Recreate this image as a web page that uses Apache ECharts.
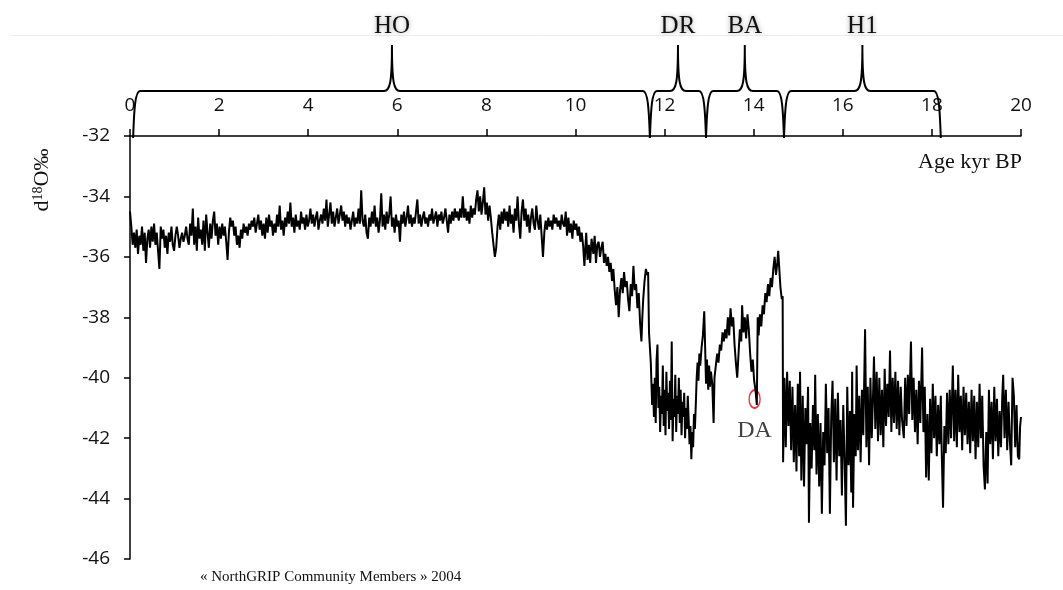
<!DOCTYPE html>
<html><head><meta charset="utf-8">
<script src="https://cdn.jsdelivr.net/npm/echarts@6/dist/echarts.min.js"></script>
<style>html,body{margin:0;padding:0;background:#fff}#c{width:1063px;height:590px}</style>
</head><body><div id="c"></div>
<script>
// ---- axes ----
const xMin = 0, xMax = 20, xStep = 2;
const yMin = -46, yMax = -32, yStep = 2;

// ---- climate periods (braces on top) ----
const periodNames = ['HO', 'DR', 'BA', 'H1'];
const periodStart = [0.07, 11.67, 12.93, 14.68];
const periodPeak  = [5.88, 12.30, 13.80, 16.44];
const periodEnd   = [11.67, 12.93, 14.68, 18.20];

// ---- DA marker ----
const daPoint = [14.02, -40.71];

// ---- NorthGRIP d18O record: [age kyr BP, d18O permil] ----
const holocene = [
[0.00,-34.5],[0.03,-35.0],[0.06,-35.6],[0.09,-35.2],[0.12,-35.7],[0.15,-35.1],[0.18,-35.9],[0.21,-35.3],[0.24,-35.6],[0.27,-35.0],
[0.30,-35.8],[0.33,-35.2],[0.36,-36.2],[0.39,-35.4],[0.42,-35.1],[0.45,-35.7],[0.48,-35.0],[0.51,-35.5],[0.54,-34.9],[0.57,-35.6],
[0.60,-35.2],[0.63,-35.8],[0.66,-36.4],[0.69,-35.0],[0.72,-35.4],[0.75,-35.1],[0.78,-35.7],[0.81,-35.3],[0.84,-35.9],[0.87,-35.2],
[0.90,-35.5],[0.93,-35.0],[0.96,-35.6],[0.99,-35.8],[1.02,-35.3],[1.05,-35.0],[1.08,-35.3],[1.11,-35.7],[1.14,-35.4],[1.17,-35.2],
[1.20,-35.5],[1.23,-35.3],[1.26,-35.0],[1.29,-35.4],[1.32,-35.6],[1.35,-34.9],[1.38,-35.3],[1.41,-34.4],[1.44,-35.6],[1.47,-35.0],
[1.50,-35.8],[1.53,-34.7],[1.56,-35.4],[1.59,-35.1],[1.62,-35.6],[1.65,-34.8],[1.68,-35.8],[1.71,-34.6],[1.74,-35.2],[1.77,-35.7],
[1.80,-34.9],[1.83,-35.4],[1.86,-34.8],[1.89,-34.5],[1.92,-35.3],[1.95,-34.9],[1.98,-35.6],[2.01,-35.0],[2.04,-35.4],[2.07,-34.9],
[2.10,-35.3],[2.13,-35.0],[2.16,-35.5],[2.19,-36.1],[2.22,-35.2],[2.25,-34.7],[2.28,-35.0],[2.31,-34.8],[2.34,-35.3],[2.37,-35.0],
[2.40,-35.6],[2.43,-35.3],[2.46,-35.7],[2.49,-35.1],[2.52,-35.4],[2.55,-34.9],[2.58,-35.2],[2.61,-35.0],[2.64,-35.3],[2.67,-34.9],
[2.70,-35.1],[2.73,-34.8],[2.76,-35.0],[2.79,-34.7],[2.82,-35.2],[2.85,-34.9],[2.88,-34.6],[2.91,-35.1],[2.94,-34.8],[2.97,-35.3],
[3.00,-34.9],[3.03,-35.4],[3.06,-34.7],[3.09,-35.2],[3.12,-34.6],[3.15,-35.0],[3.18,-34.8],[3.21,-35.3],[3.24,-34.9],[3.27,-35.2],
[3.30,-34.6],[3.33,-35.0],[3.36,-34.3],[3.39,-35.1],[3.42,-34.8],[3.45,-35.3],[3.48,-34.7],[3.51,-35.0],[3.54,-34.5],[3.57,-34.9],
[3.60,-34.2],[3.63,-35.0],[3.66,-34.7],[3.69,-35.2],[3.72,-34.6],[3.75,-35.0],[3.78,-34.8],[3.81,-35.1],[3.84,-34.5],[3.87,-34.9],
[3.90,-34.7],[3.93,-35.1],[3.96,-34.6],[3.99,-35.0],[4.02,-34.8],[4.05,-34.4],[4.08,-34.9],[4.11,-34.6],[4.14,-35.0],[4.17,-34.7],
[4.20,-34.5],[4.23,-35.1],[4.26,-34.8],[4.29,-34.6],[4.32,-34.9],[4.35,-34.4],[4.38,-34.8],[4.41,-34.1],[4.44,-35.0],[4.47,-34.6],
[4.50,-34.2],[4.53,-34.9],[4.56,-34.5],[4.59,-35.0],[4.62,-34.7],[4.65,-34.4],[4.68,-34.9],[4.71,-34.6],[4.74,-34.3],[4.77,-34.8],
[4.80,-34.5],[4.83,-35.0],[4.86,-34.6],[4.89,-34.9],[4.92,-34.7],[4.95,-35.1],[4.98,-34.8],[5.01,-34.5],[5.04,-35.0],[5.07,-34.7],
[5.10,-34.9],[5.13,-34.4],[5.16,-34.9],[5.19,-33.8],[5.22,-34.8],[5.25,-35.0],[5.28,-34.6],[5.31,-35.2],[5.34,-35.4],[5.37,-34.7],
[5.40,-35.0],[5.43,-34.5],[5.46,-34.9],[5.49,-34.3],[5.52,-35.0],[5.55,-34.7],[5.58,-35.2],[5.61,-34.8],[5.64,-33.9],[5.67,-35.0],
[5.70,-34.6],[5.73,-35.1],[5.76,-34.5],[5.79,-34.9],[5.82,-34.6],[5.85,-34.0],[5.88,-35.0],[5.91,-34.7],[5.94,-35.2],[5.97,-34.6],
[6.00,-35.0],[6.03,-34.8],[6.06,-35.5],[6.09,-34.6],[6.12,-34.9],[6.15,-34.5],[6.18,-35.0],[6.21,-34.7],[6.24,-34.3],[6.27,-34.9],
[6.30,-34.6],[6.33,-35.0],[6.36,-34.7],[6.39,-34.9],[6.42,-34.5],[6.45,-34.1],[6.48,-34.9],[6.51,-34.6],[6.54,-35.0],[6.57,-34.7],
[6.60,-34.5],[6.63,-34.9],[6.66,-34.7],[6.69,-35.0],[6.72,-34.6],[6.75,-34.8],[6.78,-34.4],[6.81,-34.9],[6.84,-34.7],[6.87,-34.5],
[6.90,-35.0],[6.93,-34.6],[6.96,-34.8],[6.99,-34.5],[7.02,-34.9],[7.05,-34.7],[7.08,-34.4],[7.11,-34.8],[7.14,-35.2],[7.17,-34.6],
[7.20,-34.9],[7.23,-34.5],[7.26,-34.8],[7.29,-34.4],[7.32,-34.7],[7.35,-34.5],[7.38,-34.8],[7.41,-34.4],[7.44,-34.7],[7.47,-34.0],
[7.50,-34.7],[7.53,-34.4],[7.56,-34.8],[7.59,-34.5],[7.62,-34.9],[7.65,-34.3],[7.68,-34.7],[7.71,-34.4],[7.74,-34.6],[7.77,-34.1],
[7.80,-33.8],[7.83,-34.5],[7.86,-34.0],[7.89,-34.6],[7.92,-34.2],[7.95,-33.7],[7.98,-34.6],[8.01,-34.2],[8.04,-34.8],[8.07,-34.3],
[8.10,-34.7],[8.13,-35.2],[8.16,-35.6],[8.19,-36.0],[8.22,-35.7],[8.25,-35.0],[8.28,-34.6],[8.31,-35.1],[8.34,-34.5],[8.37,-34.9],
[8.40,-34.4],[8.43,-34.8],[8.46,-34.5],[8.49,-35.0],[8.52,-34.3],[8.55,-34.9],[8.58,-34.6],[8.61,-35.2],[8.64,-34.4],[8.67,-34.8],
[8.70,-34.0],[8.73,-34.9],[8.76,-35.4],[8.79,-34.5],[8.82,-34.1],[8.85,-34.8],[8.88,-34.4],[8.91,-35.0],[8.94,-34.6],[8.97,-35.2],
[9.00,-34.7],[9.03,-34.4],[9.06,-34.9],[9.09,-35.1],[9.12,-34.3],[9.15,-34.8],[9.18,-35.1],[9.21,-34.6],[9.24,-35.3],[9.27,-36.0],
[9.30,-35.2],[9.33,-34.8],[9.36,-35.1],[9.39,-34.7],[9.42,-35.0],[9.45,-34.8],[9.48,-35.1],[9.51,-34.6],[9.54,-34.9],[9.57,-34.7],
[9.60,-35.0],[9.63,-34.8],[9.66,-35.1],[9.69,-34.6],[9.72,-34.9],[9.75,-35.0],[9.78,-34.5],[9.81,-35.3],[9.84,-34.7],[9.87,-35.2],
[9.90,-34.9],[9.93,-35.4],[9.96,-34.8],[9.99,-35.1],[10.02,-34.9],[10.05,-35.3],[10.08,-35.0],[10.11,-35.5],[10.14,-35.2],[10.17,-35.6],
[10.20,-36.3],[10.24,-35.2],[10.27,-36.1],[10.30,-35.6],[10.33,-36.2],[10.36,-35.4],[10.40,-35.9],[10.43,-35.3],[10.46,-36.2],[10.49,-35.6],
[10.52,-35.5],[10.55,-36.0],[10.58,-35.7],[10.61,-35.5],[10.64,-36.2],[10.67,-35.9],[10.70,-36.3],[10.73,-36.0],[10.76,-36.5],[10.79,-36.2],
[10.82,-36.8],[10.85,-36.4],[10.88,-37.1],[10.91,-37.6],[10.94,-37.0],[10.97,-38.0],[11.00,-37.1],[11.03,-36.7],[11.06,-37.2],[11.09,-36.5],
[11.12,-37.0],[11.15,-36.8],[11.18,-37.4],[11.21,-37.8],[11.24,-36.9],[11.27,-37.3],[11.30,-36.3],[11.33,-37.1],[11.36,-36.9],[11.39,-37.7],
[11.42,-37.2],[11.45,-38.2],[11.48,-38.8],[11.50,-38.0],[11.52,-37.4],[11.55,-36.8],[11.58,-36.4],[11.61,-36.6],[11.63,-36.5]
];
const transition = [
[11.65,-38.5],[11.69,-39.5],[11.72,-40.9],[11.74,-40.2],[11.76,-41.3],[11.78,-40.0],[11.80,-41.5],[11.82,-39.4],[11.84,-38.9],[11.86,-41.0],
[11.88,-40.3],[11.90,-41.8],[11.92,-40.6],[11.94,-41.2],[11.96,-39.6],[11.98,-41.6],[12.00,-40.4],[12.02,-41.9],[12.04,-39.8],[12.06,-41.1],
[12.08,-40.5],[12.10,-41.7],[12.12,-40.1],[12.14,-41.4],[12.16,-38.8],[12.18,-42.1],[12.20,-40.7],[12.22,-41.3],[12.24,-39.9],[12.26,-41.8],
[12.28,-40.6],[12.30,-41.2],[12.32,-40.0],[12.34,-41.5],[12.36,-40.4],[12.38,-41.9],[12.40,-40.8],[12.42,-41.3],[12.44,-40.5],[12.46,-42.0],
[12.48,-41.0],[12.50,-41.7],[12.52,-40.6],[12.54,-41.4],[12.56,-42.2],[12.58,-41.6],[12.60,-42.7],[12.62,-41.8],[12.64,-42.3],[12.66,-41.2],
[12.68,-41.7],[12.70,-40.9],[12.72,-40.0],[12.74,-39.5],[12.76,-40.1],[12.78,-39.2],[12.80,-39.6],[12.83,-39.0],[12.86,-38.6],[12.89,-37.8],
[12.91,-39.0],[12.93,-40.2],[12.95,-39.4],[12.98,-40.4],[13.00,-39.6],[13.02,-40.3],[13.04,-39.8],[13.07,-40.2],[13.10,-41.5],[13.12,-40.0],
[13.15,-39.6],[13.18,-39.2],[13.21,-39.5],[13.24,-38.9],[13.27,-39.1],[13.30,-38.5],[13.33,-38.8],[13.36,-38.4],[13.39,-38.7],[13.42,-38.0],
[13.45,-38.6],[13.48,-37.7],[13.51,-38.3],[13.54,-38.0],[13.57,-38.9],[13.60,-39.5],[13.63,-40.0],[13.66,-39.2],[13.69,-38.4],[13.72,-38.8],
[13.74,-37.6],[13.77,-38.5],[13.80,-38.0],[13.83,-38.7],[13.86,-37.9],[13.89,-38.4],[13.92,-39.2],[13.95,-39.8],[13.98,-39.4],[14.01,-40.1],
[14.04,-40.4],[14.07,-40.9],[14.09,-38.0],[14.11,-38.6],[14.14,-37.9],[14.17,-38.3],[14.20,-37.6],[14.23,-37.9],[14.26,-37.2],[14.29,-37.5],
[14.32,-36.9],[14.35,-37.3],[14.38,-36.7],[14.41,-37.0],[14.44,-36.4],[14.47,-36.0],[14.50,-36.6],[14.53,-36.2],[14.55,-35.8],[14.57,-36.3],
[14.60,-37.0],[14.63,-37.4],[14.65,-37.3]
];
const glacial = [
[14.66,-42.8],[14.69,-40.0],[14.72,-42.3],[14.75,-39.8],[14.78,-41.6],[14.81,-40.1],[14.84,-42.4],[14.87,-40.3],[14.90,-42.8],[14.93,-40.9],
[14.96,-43.1],[14.99,-40.2],[15.02,-42.6],[15.04,-39.8],[15.07,-43.4],[15.10,-40.6],[15.13,-43.6],[15.16,-41.0],[15.19,-42.2],[15.22,-40.3],
[15.24,-44.8],[15.27,-41.5],[15.30,-43.0],[15.33,-40.9],[15.36,-42.4],[15.38,-39.9],[15.41,-43.2],[15.44,-41.2],[15.47,-43.6],[15.50,-41.5],
[15.53,-44.5],[15.56,-41.8],[15.59,-42.9],[15.62,-40.2],[15.65,-42.5],[15.68,-41.0],[15.71,-44.5],[15.74,-41.3],[15.77,-40.1],[15.80,-42.8],
[15.83,-40.7],[15.86,-43.4],[15.89,-40.5],[15.92,-42.6],[15.95,-41.4],[15.98,-43.9],[16.01,-40.9],[16.04,-42.7],[16.07,-44.9],[16.10,-40.3],
[16.13,-42.9],[16.16,-41.1],[16.19,-43.8],[16.21,-39.8],[16.23,-44.3],[16.26,-41.2],[16.29,-42.6],[16.31,-39.6],[16.34,-42.4],[16.37,-40.6],
[16.40,-42.8],[16.43,-40.4],[16.46,-41.9],[16.50,-38.4],[16.53,-42.3],[16.56,-40.3],[16.59,-42.9],[16.62,-40.0],[16.65,-42.0],[16.68,-40.5],
[16.70,-39.3],[16.73,-41.7],[16.76,-39.8],[16.79,-42.1],[16.82,-40.0],[16.85,-41.9],[16.88,-40.4],[16.91,-42.3],[16.94,-39.7],[16.97,-41.6],
[17.00,-40.2],[17.03,-41.3],[17.06,-39.1],[17.09,-41.8],[17.12,-40.0],[17.15,-41.5],[17.18,-39.8],[17.21,-41.7],[17.24,-40.1],[17.27,-41.9],
[17.30,-40.3],[17.33,-41.4],[17.37,-42.0],[17.40,-40.0],[17.43,-41.6],[17.46,-39.9],[17.49,-41.2],[17.53,-38.8],[17.56,-41.4],[17.59,-40.0],
[17.62,-41.8],[17.65,-40.4],[17.68,-42.2],[17.71,-40.1],[17.74,-41.5],[17.78,-39.0],[17.81,-41.8],[17.84,-40.3],[17.87,-43.3],[17.90,-41.2],
[17.93,-43.4],[17.96,-40.7],[17.99,-42.5],[18.02,-40.2],[18.05,-42.0],[18.08,-40.6],[18.11,-42.6],[18.14,-40.9],[18.17,-42.2],[18.20,-40.6],
[18.22,-42.4],[18.25,-44.3],[18.28,-41.6],[18.31,-42.5],[18.34,-40.5],[18.37,-42.2],[18.40,-40.4],[18.43,-42.0],[18.47,-39.6],[18.50,-42.1],
[18.53,-40.4],[18.56,-42.3],[18.59,-39.9],[18.62,-41.8],[18.65,-40.6],[18.68,-42.4],[18.71,-40.3],[18.74,-41.9],[18.77,-40.5],[18.80,-42.2],
[18.83,-40.8],[18.86,-42.5],[18.89,-40.4],[18.92,-42.1],[18.95,-40.6],[18.98,-42.7],[19.01,-40.8],[19.04,-42.3],[19.07,-40.2],[19.10,-42.0],
[19.13,-40.6],[19.16,-42.9],[19.19,-43.7],[19.22,-41.8],[19.25,-43.5],[19.28,-40.4],[19.31,-42.2],[19.34,-40.8],[19.37,-42.7],[19.40,-40.3],
[19.43,-42.1],[19.46,-40.7],[19.49,-42.6],[19.52,-41.1],[19.55,-42.3],[19.58,-40.6],[19.60,-39.9],[19.63,-42.0],[19.66,-40.4],[19.69,-42.4],
[19.72,-40.8],[19.75,-42.1],[19.78,-42.9],[19.81,-40.0],[19.84,-40.6],[19.87,-42.3],[19.90,-40.9],[19.93,-42.6],[19.96,-42.7],[19.98,-41.6],
[20.00,-41.3]
];

const record = holocene.concat(transition, glacial);

const braceData = periodNames.map((n, i) => [periodStart[i], periodPeak[i], periodEnd[i], yMax]);

const serif = '"Liberation Serif", "Times New Roman", serif';
const sans = '"Open Sans", "Noto Sans", sans-serif';

function renderBrace(params, api) {
  const s = api.coord([api.value(0), yMax]);
  const p = api.coord([api.value(1), yMax]);
  const e = api.coord([api.value(2), yMax]);
  const top = s[1];
  const yB = top + 2, yL = top - 45, yT = top - 91;
  const r = 7, w = 8;
  const d = 'M' + s[0] + ',' + yB +
    ' C' + (s[0] + 1) + ',' + (yL + 18) + ' ' + (s[0] + 2) + ',' + yL + ' ' + (s[0] + r) + ',' + yL +
    ' L' + (p[0] - w) + ',' + yL +
    ' C' + (p[0] - 2) + ',' + yL + ' ' + p[0] + ',' + (yL - 8) + ' ' + p[0] + ',' + yT +
    ' C' + p[0] + ',' + (yL - 8) + ' ' + (p[0] + 2) + ',' + yL + ' ' + (p[0] + w) + ',' + yL +
    ' L' + (e[0] - r) + ',' + yL +
    ' C' + (e[0] - 2) + ',' + yL + ' ' + (e[0] - 1) + ',' + (yL + 18) + ' ' + e[0] + ',' + yB;
  return {
    type: 'group',
    children: [
      { type: 'path', shape: { pathData: d }, style: { fill: null, stroke: '#000', lineWidth: 2 } },
      { type: 'text', x: p[0], y: top - 110,
        style: { text: periodNames[params.dataIndex], font: '25px ' + serif, fill: '#111',
                 align: 'center', verticalAlign: 'middle',
                 textShadowColor: 'rgba(0,0,0,0.35)', textShadowBlur: 5 } }
    ]
  };
}

const chart = echarts.init(document.getElementById('c'), null, { renderer: 'canvas' });
chart.setOption({
  animation: false,
  backgroundColor: '#fff',
  grid: { left: 130, top: 136, width: 891, height: 423, containLabel: false },
  xAxis: {
    type: 'value', position: 'top', min: xMin, max: xMax, interval: xStep,
    axisLine: { show: true, lineStyle: { color: '#000', width: 1.5 } },
    axisTick: { show: true, inside: false, length: 7, lineStyle: { color: '#000', width: 1.5 } },
    axisLabel: { color: '#111', fontFamily: sans, fontSize: 19, margin: 21 },
    splitLine: { show: false }
  },
  yAxis: {
    type: 'value', min: yMin, max: yMax, interval: yStep,
    axisLine: { show: true, onZero: false, lineStyle: { color: '#000', width: 1.5 } },
    axisTick: { show: true, inside: false, length: 6, lineStyle: { color: '#000', width: 1.5 } },
    axisLabel: { color: '#111', fontFamily: sans, fontSize: 19, margin: 20 },
    splitLine: { show: false }
  },
  series: [
    {
      type: 'line', data: record, symbol: 'none', clip: true,
      lineStyle: { color: '#000', width: 2 }, silent: true
    },
    {
      type: 'custom', data: braceData, encode: { x: [0, 1, 2], y: 3 },
      renderItem: renderBrace, clip: false, silent: true
    },
    {
      type: 'scatter', data: [daPoint], symbol: 'circle', symbolSize: [11, 18], silent: true,
      itemStyle: { color: 'rgba(0,0,0,0)', borderColor: '#e8000b', borderWidth: 1.7 },
      label: { show: true, position: 'bottom', distance: 9, formatter: 'DA',
               fontFamily: serif, fontSize: 24, color: '#111' }
    }
  ],
  graphic: [
    { type: 'line', shape: { x1: 10, y1: 35.5, x2: 1063, y2: 35.5 }, style: { stroke: '#ededed', lineWidth: 1 }, silent: true },
    { type: 'text', right: 41, top: 151,
      style: { text: 'Age kyr BP', font: '22px ' + serif, fill: '#111' } },
    { type: 'text', left: 200, top: 570,
      style: { text: '« NorthGRIP Community Members » 2004', font: '15px ' + serif, fill: '#111' } },
    { type: 'text', x: 42, y: 180, rotation: Math.PI / 2,
      style: { text: '{a|d}{b|18}{a|O‰}', align: 'center', verticalAlign: 'middle',
               rich: { a: { font: '22px ' + serif, fill: '#111' }, b: { font: '14px ' + serif, fill: '#111', verticalAlign: 'top', padding: [0, 0, 8, 0] } } } }
  ]
});
</script></body></html>
